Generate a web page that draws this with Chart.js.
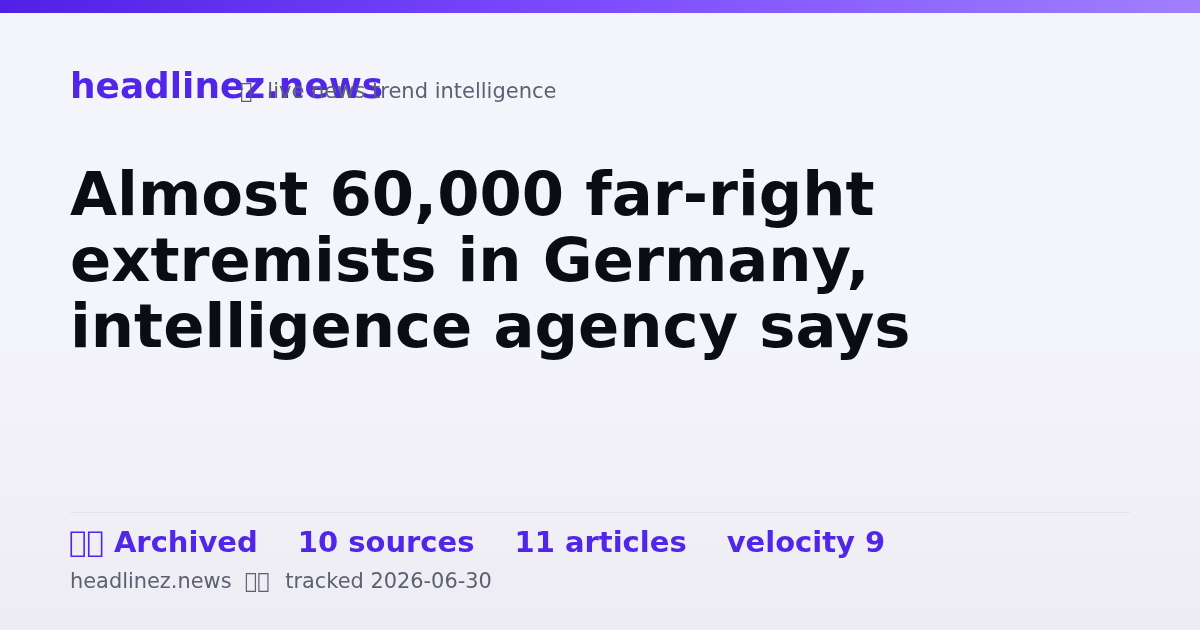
<!DOCTYPE html>
<html>
<head>
<meta charset="utf-8">
<script src="https://cdn.jsdelivr.net/npm/chart.js@4"></script>
<style>
  html, body { margin: 0; padding: 0; }
  body {
    width: 1200px; height: 630px; overflow: hidden; position: relative;
    font-family: "DejaVu Sans", sans-serif;
    background: linear-gradient(180deg, #f4f5fa 0%, #f4f5fb 50%, #edecf2 100%);
  }
  #strip { position: absolute; left: 0; top: 0; }
  .t { position: absolute; left: 70px; white-space: pre; will-change: transform; }
  #brand { top: 65px; font-size: 35.9px; line-height: 42px; font-weight: 700; color: #5226e8; }
  #tag { left: 240px; top: 78px; font-size: 21px; line-height: 26px; color: #5c6073; }
  #title { top: 161px; font-size: 60.8px; line-height: 66px; font-weight: 700; color: #0b0d14; }
  #rule { position: absolute; left: 70px; top: 512px; width: 1060px; height: 1px; background: #e3e3ea; }
  #stats { left: 69px; top: 524px; font-size: 29px; line-height: 36px; font-weight: 700; color: #5226e8; }
  #stats span { margin-right: 40px; }
  #foot { top: 568px; font-size: 20.9px; line-height: 26px; color: #5c6073; }
</style>
</head>
<body>
<canvas id="strip" width="1200" height="13"></canvas>
<div class="t" id="brand"></div>
<div class="t" id="tag"></div>
<div class="t" id="title"></div>
<div id="rule"></div>
<div class="t" id="stats"></div>
<div class="t" id="foot"></div>
<script>
const brand = 'headlinez.news';
// the reference shows empty boxes where glyphs are missing, private use chars give the same box
const tagline = '\uE000\u2002\u2009live news trend intelligence';
const titleLines = ['Almost 60,000 far-right', 'extremists in Germany,', 'intelligence agency says'];
const stats = ['\uE000\uE001 Archived', '10 sources', '11 articles', 'velocity 9'];
const footer = 'headlinez.news  \uE000\uE001\u200A  tracked 2026-06-30';

// top strip is one full width bar
const stripLabels = ['strip'];
const stripValues = [1];

document.getElementById('brand').textContent = brand;
document.getElementById('tag').textContent = tagline;
document.getElementById('title').textContent = titleLines.join('\n');
document.getElementById('foot').textContent = footer;
stats.forEach(s => {
  const el = document.createElement('span');
  el.textContent = s;
  document.getElementById('stats').appendChild(el);
});

const ctx = document.getElementById('strip').getContext('2d');
const grad = ctx.createLinearGradient(0, 0, 1200, 0);
grad.addColorStop(0, '#5020e6');
grad.addColorStop(0.5, '#7c4dff');
grad.addColorStop(1, '#a080ff');

new Chart(ctx, {
  type: 'bar',
  data: {
    labels: stripLabels,
    datasets: [{
      data: stripValues,
      backgroundColor: grad,
      borderWidth: 0,
      barPercentage: 1,
      categoryPercentage: 1
    }]
  },
  options: {
    indexAxis: 'y',
    responsive: false,
    animation: false,
    devicePixelRatio: 1,
    layout: { padding: 0 },
    plugins: { legend: { display: false }, tooltip: { enabled: false } },
    scales: {
      x: { display: false, min: 0, max: 1 },
      y: { display: false }
    }
  }
});
</script>
</body>
</html>
